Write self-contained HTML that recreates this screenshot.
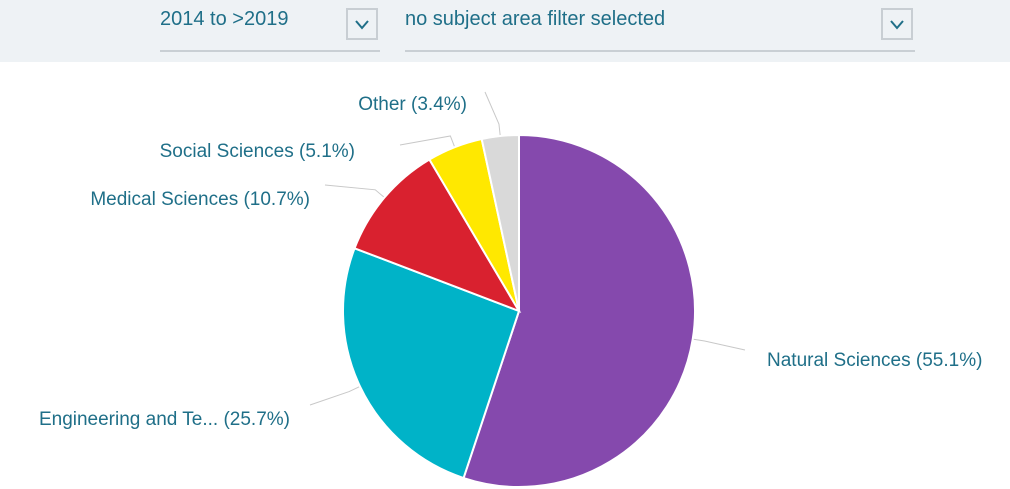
<!DOCTYPE html>
<html><head><meta charset="utf-8"><style>
body{margin:0;width:1010px;height:489px;overflow:hidden;background:#fff;font-family:"Liberation Sans",sans-serif;}
#hdr{position:absolute;left:0;top:0;width:1010px;height:62px;background:#eef2f5;}
.dd{position:absolute;top:0;height:50px;border-bottom:2px solid #c9cfd4;}
.dd span{position:absolute;left:0;top:8px;font-size:20px;color:#1f6f88;}
.box{position:absolute;top:8px;width:32px;height:32px;border:2px solid #c8ced3;box-sizing:border-box;}
svg{position:absolute;left:0;top:0;}
</style></head><body>
<div id="hdr">
 <div class="dd" style="left:160px;width:220px"><span>2014 to &gt;2019</span>
  <div class="box" style="left:186px"><svg width="28" height="28"><polyline points="8,11 14,18 20,11" fill="none" stroke="#1f6f88" stroke-width="2"/></svg></div></div>
 <div class="dd" style="left:405px;width:510px"><span>no subject area filter selected</span>
  <div class="box" style="left:476px"><svg width="28" height="28"><polyline points="8,11 14,18 20,11" fill="none" stroke="#1f6f88" stroke-width="2"/></svg></div></div>
</div>
<svg id="chart" width="1010" height="489" style="top:0"></svg>
<script>
const categories=["Natural Sciences","Engineering and Te...","Medical Sciences","Social Sciences","Other"];
const values=[55.1,25.7,10.7,5.1,3.4];
const colors=["#8549ad","#00b3c8","#d9212f","#ffe800","#d9d9d9"];
const labelPos=[[767,366,"start"],[290,425,"end"],[310,205,"end"],[355,157,"end"],[467,110,"end"]];
const labelAnchor=[[745,350],[310,405],[325,185],[400,145],[485,92]];
const svg=document.getElementById('chart');
const NS="http://www.w3.org/2000/svg";
const cx=519,cy=311,r=176;
const total=values.reduce((a,b)=>a+b,0);
function pt(a,rr){return [cx+rr*Math.sin(a),cy-rr*Math.cos(a)];}
let a0=0;
values.forEach((v,i)=>{
 const a1=a0+v/total*2*Math.PI;
 const p0=pt(a0,r),p1=pt(a1,r);
 const large=(a1-a0)>Math.PI?1:0;
 const mid=(a0+a1)/2,pe=pt(mid,r),pm=pt(mid,r+12);
 const ln=document.createElementNS(NS,'polyline');
 const la=labelAnchor[i];
 ln.setAttribute('points',`${pe[0]},${pe[1]} ${pm[0]},${pm[1]} ${la[0]},${la[1]}`);
 ln.setAttribute('fill','none');ln.setAttribute('stroke','#c8c8c8');ln.setAttribute('stroke-width','1');
 
 
 svg.appendChild(ln);
 const p=document.createElementNS(NS,'path');
 p.setAttribute('d',`M${cx},${cy}L${p0[0]},${p0[1]}A${r},${r} 0 ${large} 1 ${p1[0]},${p1[1]}Z`);
 p.setAttribute('fill',colors[i]);p.setAttribute('stroke','#fff');p.setAttribute('stroke-width','2');
 
 
 svg.appendChild(p);
 const t=document.createElementNS(NS,'text');
 t.setAttribute('x',labelPos[i][0]);t.setAttribute('y',labelPos[i][1]);
 t.setAttribute('text-anchor',labelPos[i][2]);
 t.setAttribute('font-size','19');t.setAttribute('fill','#1f6f88');
 t.setAttribute('font-family','"Liberation Sans",sans-serif');
 t.textContent=`${categories[i]} (${v}%)`;
 
 
 svg.appendChild(t);
 a0=a1;
});
</script>
</body></html>
